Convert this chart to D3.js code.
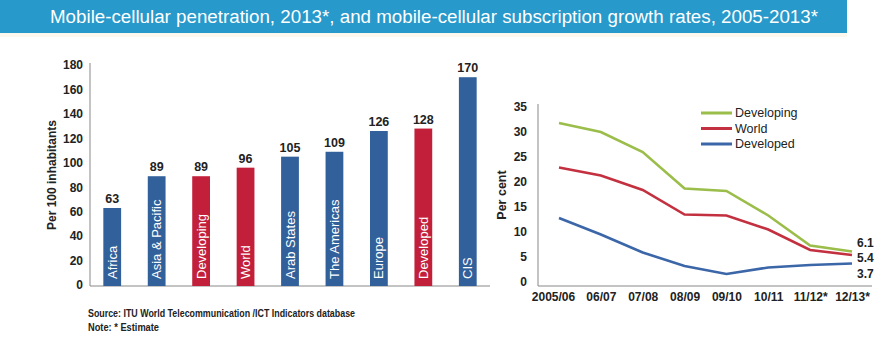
<!DOCTYPE html>
<html lang="en">
<head>
    <meta charset="UTF-8">
    <title>Mobile-cellular penetration and growth</title>
    <script src="https://d3js.org/d3.v7.min.js"></script>
    <style>
        body {
            margin: 0;
            background: #fff;
            font-family: "Liberation Sans", Arial, sans-serif;
        }
    </style>
</head>
<body>
    <div id="chart"></div>

    <script>
        // penetration per 100 inhabitants, 2013
        const regions = ["Africa", "Asia & Pacific", "Developing", "World", "Arab States", "The Americas", "Europe", "Developed", "CIS"];
        const penetration = [63, 89, 89, 96, 105, 109, 126, 128, 170];
        const aggregates = ["Developing", "World", "Developed"];

        // subscription growth rates (per cent)
        const years = ["2005/06", "06/07", "07/08", "08/09", "09/10", "10/11", "11/12*", "12/13*"];
        const developing = [31.8, 30.0, 26.0, 18.7, 18.2, 13.3, 7.3, 6.1];
        const world = [22.9, 21.3, 18.4, 13.5, 13.3, 10.5, 6.4, 5.4];
        const developed = [12.8, 9.5, 5.9, 3.2, 1.6, 2.9, 3.4, 3.7];

        const width = 888, height = 340;
        const blue = "#31609a", red = "#c21f3a";
        const ink = "#222";

        const svg = d3.select("#chart").append("svg")
            .attr("width", width)
            .attr("height", height);

        // title banner
        svg.append("rect").attr("x", 0).attr("y", 0).attr("width", 847).attr("height", 33).attr("fill", "#2799cb");
        svg.append("rect").attr("x", 0).attr("y", 33).attr("width", 847).attr("height", 4).attr("fill", "#fdf8ee");
        svg.append("text")
            .attr("x", 434).attr("y", 23)
            .attr("text-anchor", "middle")
            .attr("fill", "#fff")
            .attr("textLength", 768).attr("lengthAdjust", "spacingAndGlyphs")
            .style("font-size", "18px")
            .text("Mobile-cellular penetration, 2013*, and mobile-cellular subscription growth rates, 2005-2013*");

        // ---- bar chart ----
        const x = d3.scaleBand().domain(regions).range([90, 490]).paddingInner(0.6).paddingOuter(0.3);
        const y = d3.scaleLinear().domain([0, 180]).range([285, 65]);

        const yAxis = svg.append("g")
            .attr("transform", "translate(90,0)")
            .call(d3.axisLeft(y).tickValues(d3.range(0, 181, 20)).tickSize(0).tickPadding(7));
        yAxis.select(".domain").attr("stroke", "#888").attr("d", "M0,63V286");
        yAxis.selectAll("text").style("font-size", "12px").style("font-weight", "bold").attr("fill", ink);

        svg.append("line").attr("x1", 90).attr("x2", 490).attr("y1", 286).attr("y2", 286).attr("stroke", "#888");

        svg.append("text")
            .attr("transform", "translate(56,175) rotate(-90)")
            .attr("text-anchor", "middle")
            .style("font-size", "12px").style("font-weight", "bold").attr("fill", ink)
            .text("Per 100 inhabitants");

        const bars = svg.append("g").selectAll("g")
            .data(regions.map((r, i) => ({ region: r, value: penetration[i] })))
            .join("g");

        bars.append("rect")
            .attr("x", d => x(d.region))
            .attr("y", d => y(d.value))
            .attr("width", x.bandwidth())
            .attr("height", d => y(0) - y(d.value) + 1)
            .attr("fill", d => aggregates.includes(d.region) ? red : blue);

        bars.append("text")
            .attr("x", d => x(d.region) + x.bandwidth() / 2)
            .attr("y", d => y(d.value) - 5)
            .attr("text-anchor", "middle")
            .style("font-size", "12.5px").style("font-weight", "bold").attr("fill", ink)
            .text(d => d.value);

        bars.append("text")
            .attr("transform", d => `translate(${x(d.region) + x.bandwidth() / 2 + 4.5},279) rotate(-90)`)
            .attr("fill", "#fff")
            .style("font-size", "13px")
            .text(d => d.region);

        svg.append("text").attr("x", 88).attr("y", 317)
            .attr("textLength", 267).attr("lengthAdjust", "spacingAndGlyphs")
            .style("font-size", "10.5px").style("font-weight", "bold").attr("fill", ink)
            .text("Source:  ITU World Telecommunication /ICT Indicators database");
        svg.append("text").attr("x", 88).attr("y", 331)
            .attr("textLength", 71).attr("lengthAdjust", "spacingAndGlyphs")
            .style("font-size", "10.5px").style("font-weight", "bold").attr("fill", ink)
            .text("Note: * Estimate");

        // ---- line chart ----
        const lx = d3.scalePoint().domain(years).range([559, 852]);
        const ly = d3.scaleLinear().domain([0, 35]).range([282, 107]);

        const lyAxis = svg.append("g")
            .attr("transform", "translate(538,0)")
            .call(d3.axisLeft(ly).tickValues(d3.range(0, 36, 5)).tickSize(0).tickPadding(11));
        lyAxis.select(".domain").attr("stroke", "#888").attr("d", "M0,104V286");
        lyAxis.selectAll("text").style("font-size", "12px").style("font-weight", "bold").attr("fill", ink);

        const lxAxis = svg.append("g")
            .attr("transform", "translate(0,286)")
            .call(d3.axisBottom(lx).tickSize(0).tickPadding(6));
        lxAxis.select(".domain").attr("stroke", "#888").attr("d", "M538,0H872");
        lxAxis.selectAll("text").style("font-size", "12px").style("font-weight", "bold").attr("fill", ink);
        lxAxis.selectAll(".tick").filter(d => d === "2005/06").select("text").attr("dx", -6);

        svg.append("text")
            .attr("transform", "translate(506,195) rotate(-90)")
            .attr("text-anchor", "middle")
            .style("font-size", "12.5px").style("font-weight", "bold").attr("fill", ink)
            .text("Per cent");

        const series = [
            { name: "Developing", values: developing, color: "#9bbd4a", shift: -8.5 },
            { name: "World", values: world, color: "#c3303f", shift: 3 },
            { name: "Developed", values: developed, color: "#3b66a8", shift: 10.5 }
        ];

        const line = d3.line()
            .x((d, i) => lx(years[i]))
            .y(d => ly(d));

        svg.append("g").selectAll("path")
            .data(series)
            .join("path")
            .attr("d", s => line(s.values))
            .attr("fill", "none")
            .attr("stroke", s => s.color)
            .attr("stroke-width", 2.6);

        // end-of-line values
        svg.append("g").selectAll("text")
            .data(series)
            .join("text")
            .attr("x", 857)
            .attr("y", s => ly(s.values[s.values.length - 1]) + s.shift)
            .attr("dy", "0.35em")
            .style("font-size", "12px").style("font-weight", "bold").attr("fill", ink)
            .text(s => s.values[s.values.length - 1].toFixed(1));

        // legend
        const legend = svg.append("g").selectAll("g")
            .data(series)
            .join("g")
            .attr("transform", (s, i) => `translate(701,${113 + i * 15.5})`);
        legend.append("line").attr("x1", 0).attr("x2", 31)
            .attr("stroke", s => s.color).attr("stroke-width", 3);
        legend.append("text").attr("x", 34).attr("dy", "0.35em")
            .style("font-size", "12.5px").attr("fill", ink)
            .text(s => s.name);
    </script>
</body>
</html>
